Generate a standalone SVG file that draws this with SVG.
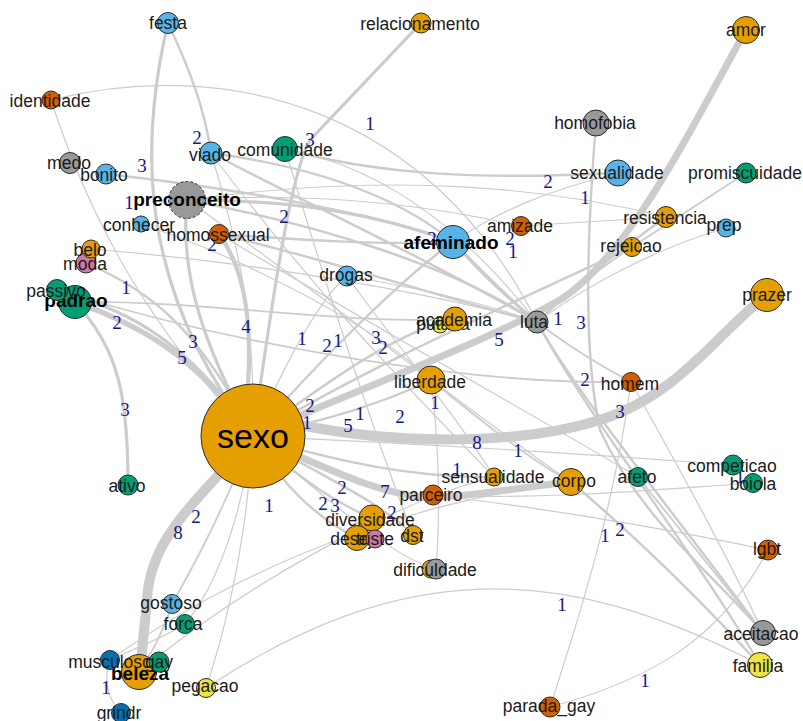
<svg xmlns="http://www.w3.org/2000/svg" width="803" height="721" viewBox="0 0 803 721">
<style>
.e{fill:none;stroke:#cccccc;stroke-linecap:round}
.w1{stroke-width:1.2}.w15{stroke-width:1.8}.w2{stroke-width:2.4}.w3{stroke-width:3.2}.w4{stroke-width:4.2}.w5{stroke-width:5.5}.w7{stroke-width:7}.w8{stroke-width:10}
.el{font-family:"Liberation Serif","Times New Roman",serif;font-size:19px;fill:#16168c;text-anchor:middle}
.n circle{stroke:#2a2a2a;stroke-width:1}
.t{font-family:"Liberation Sans",Arial,sans-serif;font-size:17.5px;fill:#1a1a1a;text-anchor:middle}
.b{font-weight:bold;font-size:19px;fill:#000}
.or{fill:#E69F00}.bl{fill:#56B4E9}.gr{fill:#009E73}.gy{fill:#999999}.vm{fill:#D55E00}.pk{fill:#CC79A7}.ye{fill:#F0E442}.db{fill:#0072B2}
</style>
<rect width="803" height="721" fill="#ffffff"/>
<g id="connectors">
<path class="e w1" d="M51,100 C230,55 430,110 537,322"/>
<path class="e w1" d="M51,100 C90,220 150,330 253,436"/>
<path class="e w1" d="M666,217 C560,190 400,170 187,200"/>
<path class="e w1" d="M521,226 L666,217"/>
<path class="e w15" d="M746,173 L632,247"/>
<path class="e w15" d="M632,247 C590,275 560,300 537,322"/>
<path class="e w1" d="M726,228 C650,250 580,290 537,322"/>
<path class="e w1" d="M187,200 C330,190 450,210 521,226"/>
<path class="e w1" d="M141,224 C250,260 380,330 431,380"/>
<path class="e w1" d="M91,249 C250,262 420,290 537,322"/>
<path class="e w15" d="M75,302 C200,300 350,325 455,319"/>
<path class="e w1" d="M253,436 C300,330 330,290 347,276"/>
<path class="e w1" d="M285,149 C400,170 480,250 537,322"/>
<path class="e w1" d="M211,153 C240,250 255,320 253,436"/>
<path class="e w1" d="M347,276 C430,290 490,305 537,322"/>
<path class="e w1" d="M211,153 C320,300 420,400 494,477"/>
<path class="e w1" d="M285,149 C330,300 380,450 413,535"/>
<path class="e w1" d="M347,276 C400,350 460,420 494,477"/>
<path class="e w1" d="M187,200 C330,300 480,420 571,482"/>
<path class="e w1" d="M219,234 C380,330 560,430 638,477"/>
<path class="e w1" d="M431,380 C440,450 440,520 436,569"/>
<path class="e w15" d="M253,436 C210,540 185,580 172,604"/>
<path class="e w1" d="M253,436 C235,550 205,600 185,624"/>
<path class="e w1" d="M253,436 C245,560 222,640 206,688"/>
<path class="e w1" d="M110,660 C250,560 420,500 571,482"/>
<path class="e w1" d="M110,660 Q100,690 121,713"/>
<path class="e w1" d="M206,688 C400,560 560,560 760,665"/>
<path class="e w1" d="M550,707 C650,680 720,640 768,550"/>
<path class="e w1" d="M550,707 C585,600 615,500 631,382"/>
<path class="e w1" d="M432,495 C520,505 650,525 768,550"/>
<path class="e w1" d="M733,465 C600,455 450,445 253,436"/>
<path class="e w1" d="M753,483 C650,490 550,500 432,495"/>
<path class="e w15" d="M638,477 L763,633"/>
<path class="e w1" d="M253,436 C350,520 400,560 436,569"/>
<path class="e w1" d="M185,624 C160,640 130,650 110,660"/>
<path class="e w1" d="M139,672 C250,580 400,500 494,477"/>
<path class="e w1" d="M618,173 C550,190 500,210 453,242"/>
<path class="e w1" d="M631,382 C680,470 730,560 763,633"/>
<path class="e w15" d="M57,290 C250,350 480,385 631,382"/>
<path class="e w15" d="M431,380 C480,420 530,460 571,482"/>
<path class="e w15" d="M453,242 C520,320 590,360 631,382"/>
<path class="e w15" d="M172,604 C160,640 150,655 139,672"/>
<path class="e w2" d="M187,200 C320,225 450,265 537,322"/>
<path class="e w2" d="M211,153 C300,165 390,190 453,242"/>
<path class="e w2" d="M211,153 C300,200 430,260 537,322"/>
<path class="e w2" d="M285,149 C380,175 480,180 618,173"/>
<path class="e w2" d="M219,234 C300,240 380,245 453,242"/>
<path class="e w2" d="M219,234 C330,260 450,300 537,322"/>
<path class="e w2" d="M86,263 C150,290 200,330 253,436"/>
<path class="e w2" d="M106,174 C250,190 380,215 453,242"/>
<path class="e w2" d="M666,217 C620,250 570,290 537,322"/>
<path class="e w2" d="M632,247 C520,300 380,360 253,436"/>
<path class="e w2" d="M537,322 C580,400 680,520 763,633"/>
<path class="e w2" d="M537,322 C590,420 700,560 760,665"/>
<path class="e w2" d="M571,482 C640,540 710,610 760,665"/>
<path class="e w2" d="M253,436 C320,360 400,280 453,242"/>
<path class="e w2" d="M253,436 C330,380 400,330 455,319"/>
<path class="e w2" d="M253,436 C330,420 390,400 431,380"/>
<path class="e w2" d="M253,436 C360,470 440,478 494,477"/>
<path class="e w2" d="M253,436 C300,480 340,505 372,518"/>
<path class="e w2" d="M253,436 C285,490 320,520 357,538"/>
<path class="e w2" d="M253,436 C330,480 385,505 413,535"/>
<path class="e w3" d="M168,23 C138,150 140,290 253,436"/>
<path class="e w3" d="M187,200 C180,270 200,340 253,436"/>
<path class="e w3" d="M421,23 L310,140 C292,170 275,280 253,436"/>
<path class="e w2" d="M168,23 C190,70 205,110 211,153"/>
<path class="e w3" d="M75,302 C120,350 128,400 128,485"/>
<path class="e w2" d="M596,123 C585,260 585,360 600,430 C640,520 720,580 763,633"/>
<path class="e w3" d="M187,200 C300,200 380,215 453,242"/>
<path class="e w3" d="M453,242 C490,280 515,305 537,322"/>
<path class="e w3" d="M57,290 C120,310 180,330 253,436"/>
<path class="e w4" d="M219,234 C245,270 252,320 248,386"/>
<path class="e w5" d="M75,302 C140,325 195,355 253,436"/>
<path class="e w7" d="M253,436 C330,470 390,500 440,497 C490,494 530,486 571,482"/>
<path class="e w7" d="M253,436 C330,400 470,350 560,300 C630,255 690,130 746,30"/>
<path class="e w8" d="M253,436 C200,500 150,535 147,600 L140,672"/>
<path class="e w8" d="M300,425 C400,445 520,445 600,420 S720,330 767,295"/>
<g class="el">
<text x="370" y="130">1</text><text x="310" y="146">3</text><text x="197" y="144">2</text><text x="142" y="172">3</text>
<text x="129" y="209">1</text><text x="284" y="223">2</text><text x="548" y="188">2</text><text x="585" y="204">1</text>
<text x="212" y="251">2</text><text x="432" y="245">2</text><text x="510" y="245">2</text><text x="513" y="258">1</text>
<text x="126" y="294">1</text><text x="117" y="329">2</text><text x="246" y="333">4</text><text x="182" y="364">5</text>
<text x="193" y="348">3</text><text x="302" y="345">1</text><text x="327" y="352">2</text><text x="338" y="347">1</text>
<text x="376" y="344">3</text><text x="383" y="354">2</text><text x="499" y="346">5</text><text x="558" y="325">1</text>
<text x="581" y="329">3</text><text x="585" y="386">2</text><text x="620" y="418">3</text><text x="435" y="409">1</text>
<text x="310" y="412">2</text><text x="307" y="429">1</text><text x="348" y="432">5</text><text x="360" y="420">1</text>
<text x="400" y="423">2</text><text x="477" y="449">8</text><text x="518" y="457">1</text><text x="125" y="416">3</text>
<text x="457" y="476">1</text><text x="342" y="494">2</text><text x="385" y="498">7</text><text x="323" y="510">2</text>
<text x="335" y="512">3</text><text x="392" y="519">2</text><text x="269" y="512">1</text><text x="196" y="523">2</text>
<text x="178" y="539">8</text><text x="605" y="542">1</text><text x="620" y="536">2</text><text x="562" y="611">1</text>
<text x="645" y="687">1</text><text x="106" y="694">1</text><text x="740" y="483">1</text>
</g>
</g>
<g id="nodes">
<g class="n" id="n-festa"><circle cx="168" cy="23" r="10.5" class="bl"/><text class="t" x="168" y="29">festa</text></g>
<g class="n" id="n-relacionamento"><circle cx="421" cy="23" r="10" class="or"/><text class="t" x="420" y="30">relacionamento</text></g>
<g class="n" id="n-amor"><circle cx="746" cy="30" r="13.5" class="or"/><text class="t" x="746" y="36">amor</text></g>
<g class="n" id="n-identidade"><circle cx="51" cy="100" r="9" class="vm"/><text class="t" x="50" y="107">identidade</text></g>
<g class="n" id="n-medo"><circle cx="70" cy="163" r="10.5" class="gy"/><text class="t" x="69" y="169">medo</text></g>
<g class="n" id="n-bonito"><circle cx="106" cy="174" r="10" class="bl"/><text class="t" x="104" y="181">bonito</text></g>
<g class="n" id="n-viado"><circle cx="211" cy="153" r="11" class="bl"/><text class="t" x="210" y="161">viado</text></g>
<g class="n" id="n-comunidade"><circle cx="285" cy="149" r="12.5" class="gr"/><text class="t" x="285" y="156">comunidade</text></g>
<g class="n" id="n-preconceito"><circle cx="187" cy="200" r="18.5" class="gy" stroke-dasharray="3 2"/><text class="t b" x="187" y="206">preconceito</text></g>
<g class="n" id="n-conhecer"><circle cx="141" cy="224" r="8" class="bl"/><text class="t" x="139" y="231">conhecer</text></g>
<g class="n" id="n-homossexual"><circle cx="219" cy="234" r="9.5" class="vm"/><text class="t" x="218" y="241">homossexual</text></g>
<g class="n" id="n-drogas"><circle cx="347" cy="276" r="10" class="bl"/><text class="t" x="346" y="281">drogas</text></g>
<g class="n" id="n-afeminado"><circle cx="453" cy="242" r="16.5" class="bl"/><text class="t b" x="451" y="249">afeminado</text></g>
<g class="n" id="n-amizade"><circle cx="521" cy="226" r="9.5" class="vm"/><text class="t" x="520" y="232">amizade</text></g>
<g class="n" id="n-homofobia"><circle cx="596" cy="123" r="13" class="gy"/><text class="t" x="595" y="129">homofobia</text></g>
<g class="n" id="n-sexualidade"><circle cx="618" cy="173" r="13" class="bl"/><text class="t" x="617" y="179">sexualidade</text></g>
<g class="n" id="n-promiscuidade"><circle cx="746" cy="173" r="10" class="gr"/><text class="t" x="745" y="179">promiscuidade</text></g>
<g class="n" id="n-resistencia"><circle cx="666" cy="217" r="10.5" class="or"/><text class="t" x="665" y="224">resistencia</text></g>
<g class="n" id="n-prep"><circle cx="726" cy="228" r="9" class="bl"/><text class="t" x="724" y="231">prep</text></g>
<g class="n" id="n-rejeicao"><circle cx="632" cy="247" r="9.5" class="or"/><text class="t" x="631" y="252">rejeicao</text></g>
<g class="n" id="n-moda"><circle cx="86" cy="263" r="10" class="pk"/><text class="t" x="85" y="270">moda</text></g>
<g class="n" id="n-belo"><circle cx="91" cy="249" r="9" class="or"/><text class="t" x="90" y="256">belo</text></g>
<g class="n" id="n-padrao"><circle cx="75" cy="302" r="16.5" class="gr"/><text class="t b" x="76" y="307">padrao</text></g>
<g class="n" id="n-passivo"><circle cx="57" cy="290" r="10.5" class="gr"/><text class="t" x="56" y="297">passivo</text></g>
<g class="n" id="n-ativo"><circle cx="128" cy="485" r="10" class="gr"/><text class="t" x="127" y="492">ativo</text></g>
<g class="n" id="n-putaria"><circle cx="440" cy="325" r="8" class="ye"/><text class="t" x="443" y="330">putaria</text></g>
<g class="n" id="n-academia"><circle cx="455" cy="319" r="12" class="or"/><text class="t" x="454" y="326">academia</text></g>
<g class="n" id="n-luta"><circle cx="537" cy="322" r="11" class="gy"/><text class="t" x="534" y="328">luta</text></g>
<g class="n" id="n-prazer"><circle cx="767" cy="295" r="16.5" class="or"/><text class="t" x="767" y="301">prazer</text></g>
<g class="n" id="n-liberdade"><circle cx="431" cy="380" r="14" class="or"/><text class="t" x="430" y="388">liberdade</text></g>
<g class="n" id="n-homem"><circle cx="631" cy="382" r="9.5" class="vm"/><text class="t" x="630" y="390">homem</text></g>
<g class="n" id="n-sensualidade"><circle cx="494" cy="477" r="9" class="or"/><text class="t" x="493" y="483">sensualidade</text></g>
<g class="n" id="n-corpo"><circle cx="571" cy="482" r="13.5" class="or"/><text class="t" x="574" y="487">corpo</text></g>
<g class="n" id="n-afeto"><circle cx="638" cy="477" r="9.5" class="gr"/><text class="t" x="637" y="483">afeto</text></g>
<g class="n" id="n-competicao"><circle cx="733" cy="465" r="10" class="gr"/><text class="t" x="732" y="472">competicao</text></g>
<g class="n" id="n-boiola"><circle cx="753" cy="483" r="9.5" class="gr"/><text class="t" x="753" y="490">boiola</text></g>
<g class="n" id="n-parceiro"><circle cx="433" cy="495" r="10" class="vm"/><text class="t" x="431" y="501">parceiro</text></g>
<g class="n" id="n-diversidade"><circle cx="372" cy="518" r="13" class="or"/><text class="t" x="370" y="526">diversidade</text></g>
<g class="n" id="n-desejo"><circle cx="357" cy="538" r="12.5" class="or"/><text class="t" x="356" y="545">desejo</text></g>
<g class="n" id="n-triste"><circle cx="375" cy="539" r="9" class="pk"/><text class="t" x="375" y="545">triste</text></g>
<g class="n" id="n-dst"><circle cx="413" cy="535" r="9.5" class="or"/><text class="t" x="412" y="542">dst</text></g>
<g class="n" id="n-dificuldade"><circle cx="431" cy="569" r="9" class="or"/><circle cx="436" cy="569" r="10" class="gy"/><text class="t" x="435" y="576">dificuldade</text></g>
<g class="n" id="n-gostoso"><circle cx="172" cy="604" r="9.5" class="bl"/><text class="t" x="171" y="609">gostoso</text></g>
<g class="n" id="n-forca"><circle cx="185" cy="624" r="9.5" class="gr"/><text class="t" x="183" y="630">forca</text></g>
<g class="n" id="n-beleza"><circle cx="139" cy="672" r="17.5" class="or"/><text class="t b" x="140" y="680">beleza</text></g>
<g class="n" id="n-musculoso"><circle cx="110" cy="660" r="9.5" class="db"/><text class="t" x="110" y="668">musculoso</text></g>
<g class="n" id="n-gay"><circle cx="159" cy="662" r="10" class="gr"/><text class="t" x="159" y="668">gay</text></g>
<g class="n" id="n-pegacao"><circle cx="206" cy="688" r="9.5" class="ye"/><text class="t" x="205" y="692">pegacao</text></g>
<g class="n" id="n-grindr"><circle cx="121" cy="713" r="9.5" class="db"/><text class="t" x="119" y="719">grindr</text></g>
<g class="n" id="n-parada_gay"><circle cx="550" cy="707" r="10" class="vm"/><text class="t" x="549" y="712">parada_gay</text></g>
<g class="n" id="n-lgbt"><circle cx="768" cy="550" r="10" class="vm"/><text class="t" x="767" y="555">lgbt</text></g>
<g class="n" id="n-aceitacao"><circle cx="763" cy="633" r="12.5" class="gy"/><text class="t" x="761" y="640">aceitacao</text></g>
<g class="n" id="n-familia"><circle cx="760" cy="665" r="12.5" class="ye"/><text class="t" x="758" y="672">familia</text></g>
<g class="n" id="n-sexo"><circle cx="253" cy="436" r="52" class="or"/><text class="t" x="253" y="448" style="font-size:34px;fill:#000">sexo</text></g>
</g>
</svg>
